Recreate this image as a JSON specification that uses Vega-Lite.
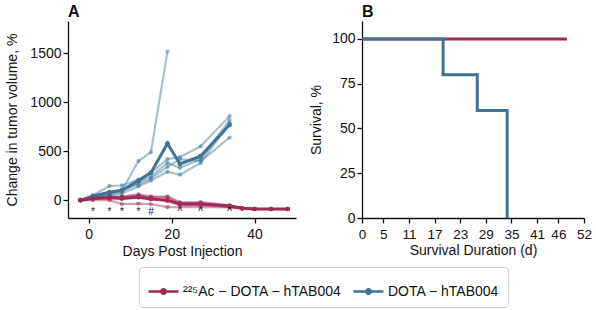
{
  "$schema": "https://vega.github.io/schema/vega-lite/v6.json",
  "padding": {"left": 5, "top": 4, "right": 5, "bottom": 5},
  "background": "white",
  "config": {
    "view": {"stroke": null},
    "font": "Liberation Sans",
    "axis": {
      "grid": false,
      "domainColor": "#111",
      "domainWidth": 1.3,
      "tickColor": "#111",
      "tickWidth": 1.3,
      "tickSize": 5,
      "labelFont": "Liberation Sans",
      "labelFontSize": 14,
      "labelColor": "#111",
      "labelOverlap": false,
      "labelFlush": false,
      "titleFont": "Liberation Sans",
      "titleFontSize": 14,
      "titleFontWeight": "normal",
      "titleColor": "#111"
    },
    "axisX": {"labelOverlap": false, "labelSeparation": 0},
    "axisQuantitative": {"labelOverlap": false},
    "title": {"font": "Liberation Sans", "fontSize": 16, "fontWeight": "bold", "anchor": "start", "frame": "group", "offset": 1, "color": "#111"},
    "legend": {
      "orient": "none",
      "legendX": 71,
      "legendY": 246,
      "direction": "horizontal",
      "title": null,
      "labelFont": "Liberation Sans",
      "labelFontSize": 14,
      "labelColor": "#111",
      "symbolType": "M-1,0L1,0M-0.15,0A0.15,0.15,0,1,1,0.15,0A0.15,0.15,0,1,1,-0.15,0Z",
      "symbolSize": 900,
      "symbolStrokeWidth": 2.6,
      "symbolOpacity": 1,
      "strokeColor": "#cccccc",
      "padding": 8,
      "cornerRadius": 3,
      "columnPadding": 6,
      "labelOffset": 3
    }
  },
  "datasets": {
    "growth": [
      {"g": "DOTA − hTAB004", "m": "B1", "d": -2, "v": 0},
      {"g": "DOTA − hTAB004", "m": "B1", "d": 1, "v": 40},
      {"g": "DOTA − hTAB004", "m": "B1", "d": 5, "v": 70},
      {"g": "DOTA − hTAB004", "m": "B1", "d": 8, "v": 100},
      {"g": "DOTA − hTAB004", "m": "B1", "d": 12, "v": 400},
      {"g": "DOTA − hTAB004", "m": "B1", "d": 15, "v": 490},
      {"g": "DOTA − hTAB004", "m": "B1", "d": 19, "v": 1520},
      {"g": "DOTA − hTAB004", "m": "B2", "d": -2, "v": 0},
      {"g": "DOTA − hTAB004", "m": "B2", "d": 1, "v": 50},
      {"g": "DOTA − hTAB004", "m": "B2", "d": 5, "v": 145},
      {"g": "DOTA − hTAB004", "m": "B2", "d": 8, "v": 150},
      {"g": "DOTA − hTAB004", "m": "B2", "d": 12, "v": 210},
      {"g": "DOTA − hTAB004", "m": "B2", "d": 15, "v": 280},
      {"g": "DOTA − hTAB004", "m": "B2", "d": 19, "v": 420},
      {"g": "DOTA − hTAB004", "m": "B2", "d": 22, "v": 440},
      {"g": "DOTA − hTAB004", "m": "B2", "d": 27, "v": 550},
      {"g": "DOTA − hTAB004", "m": "B2", "d": 34, "v": 860},
      {"g": "DOTA − hTAB004", "m": "B3", "d": -2, "v": 0},
      {"g": "DOTA − hTAB004", "m": "B3", "d": 1, "v": 35},
      {"g": "DOTA − hTAB004", "m": "B3", "d": 5, "v": 60},
      {"g": "DOTA − hTAB004", "m": "B3", "d": 8, "v": 90},
      {"g": "DOTA − hTAB004", "m": "B3", "d": 12, "v": 180},
      {"g": "DOTA − hTAB004", "m": "B3", "d": 15, "v": 240},
      {"g": "DOTA − hTAB004", "m": "B3", "d": 19, "v": 380},
      {"g": "DOTA − hTAB004", "m": "B3", "d": 22, "v": 330},
      {"g": "DOTA − hTAB004", "m": "B3", "d": 27, "v": 420},
      {"g": "DOTA − hTAB004", "m": "B3", "d": 34, "v": 820},
      {"g": "DOTA − hTAB004", "m": "B4", "d": -2, "v": 0},
      {"g": "DOTA − hTAB004", "m": "B4", "d": 1, "v": 30},
      {"g": "DOTA − hTAB004", "m": "B4", "d": 5, "v": 50},
      {"g": "DOTA − hTAB004", "m": "B4", "d": 8, "v": 70},
      {"g": "DOTA − hTAB004", "m": "B4", "d": 12, "v": 140},
      {"g": "DOTA − hTAB004", "m": "B4", "d": 15, "v": 200},
      {"g": "DOTA − hTAB004", "m": "B4", "d": 19, "v": 290},
      {"g": "DOTA − hTAB004", "m": "B4", "d": 22, "v": 260},
      {"g": "DOTA − hTAB004", "m": "B4", "d": 27, "v": 380},
      {"g": "DOTA − hTAB004", "m": "B4", "d": 34, "v": 790},
      {"g": "DOTA − hTAB004", "m": "B5", "d": -2, "v": 0},
      {"g": "DOTA − hTAB004", "m": "B5", "d": 1, "v": 40},
      {"g": "DOTA − hTAB004", "m": "B5", "d": 5, "v": 80},
      {"g": "DOTA − hTAB004", "m": "B5", "d": 8, "v": 110},
      {"g": "DOTA − hTAB004", "m": "B5", "d": 12, "v": 160},
      {"g": "DOTA − hTAB004", "m": "B5", "d": 15, "v": 220},
      {"g": "DOTA − hTAB004", "m": "B5", "d": 19, "v": 340},
      {"g": "DOTA − hTAB004", "m": "B5", "d": 22, "v": 420},
      {"g": "DOTA − hTAB004", "m": "B5", "d": 27, "v": 400},
      {"g": "DOTA − hTAB004", "m": "B5", "d": 34, "v": 640},
      {"g": "DOTA − hTAB004", "m": "mean", "d": -2, "v": 0},
      {"g": "DOTA − hTAB004", "m": "mean", "d": 1, "v": 40},
      {"g": "DOTA − hTAB004", "m": "mean", "d": 5, "v": 80},
      {"g": "DOTA − hTAB004", "m": "mean", "d": 8, "v": 100},
      {"g": "DOTA − hTAB004", "m": "mean", "d": 12, "v": 200},
      {"g": "DOTA − hTAB004", "m": "mean", "d": 15, "v": 280},
      {"g": "DOTA − hTAB004", "m": "mean", "d": 19, "v": 580},
      {"g": "DOTA − hTAB004", "m": "mean", "d": 22, "v": 370},
      {"g": "DOTA − hTAB004", "m": "mean", "d": 27, "v": 450},
      {"g": "DOTA − hTAB004", "m": "mean", "d": 34, "v": 770},
      {"g": "²²⁵Ac − DOTA − hTAB004", "m": "R1", "d": -2, "v": 0},
      {"g": "²²⁵Ac − DOTA − hTAB004", "m": "R1", "d": 1, "v": 20},
      {"g": "²²⁵Ac − DOTA − hTAB004", "m": "R1", "d": 5, "v": 40},
      {"g": "²²⁵Ac − DOTA − hTAB004", "m": "R1", "d": 8, "v": 40},
      {"g": "²²⁵Ac − DOTA − hTAB004", "m": "R1", "d": 12, "v": 60},
      {"g": "²²⁵Ac − DOTA − hTAB004", "m": "R1", "d": 15, "v": 40},
      {"g": "²²⁵Ac − DOTA − hTAB004", "m": "R1", "d": 19, "v": 30},
      {"g": "²²⁵Ac − DOTA − hTAB004", "m": "R1", "d": 22, "v": -30},
      {"g": "²²⁵Ac − DOTA − hTAB004", "m": "R1", "d": 27, "v": -20},
      {"g": "²²⁵Ac − DOTA − hTAB004", "m": "R1", "d": 34, "v": -50},
      {"g": "²²⁵Ac − DOTA − hTAB004", "m": "R1", "d": 37, "v": -80},
      {"g": "²²⁵Ac − DOTA − hTAB004", "m": "R1", "d": 40, "v": -90},
      {"g": "²²⁵Ac − DOTA − hTAB004", "m": "R1", "d": 44, "v": -90},
      {"g": "²²⁵Ac − DOTA − hTAB004", "m": "R1", "d": 48, "v": -90},
      {"g": "²²⁵Ac − DOTA − hTAB004", "m": "R2", "d": -2, "v": 0},
      {"g": "²²⁵Ac − DOTA − hTAB004", "m": "R2", "d": 1, "v": 20},
      {"g": "²²⁵Ac − DOTA − hTAB004", "m": "R2", "d": 5, "v": 30},
      {"g": "²²⁵Ac − DOTA − hTAB004", "m": "R2", "d": 8, "v": 30},
      {"g": "²²⁵Ac − DOTA − hTAB004", "m": "R2", "d": 12, "v": 50},
      {"g": "²²⁵Ac − DOTA − hTAB004", "m": "R2", "d": 15, "v": 30},
      {"g": "²²⁵Ac − DOTA − hTAB004", "m": "R2", "d": 19, "v": 40},
      {"g": "²²⁵Ac − DOTA − hTAB004", "m": "R2", "d": 22, "v": -20},
      {"g": "²²⁵Ac − DOTA − hTAB004", "m": "R2", "d": 27, "v": -30},
      {"g": "²²⁵Ac − DOTA − hTAB004", "m": "R2", "d": 34, "v": -60},
      {"g": "²²⁵Ac − DOTA − hTAB004", "m": "R2", "d": 37, "v": -85},
      {"g": "²²⁵Ac − DOTA − hTAB004", "m": "R2", "d": 40, "v": -90},
      {"g": "²²⁵Ac − DOTA − hTAB004", "m": "R2", "d": 44, "v": -92},
      {"g": "²²⁵Ac − DOTA − hTAB004", "m": "R2", "d": 48, "v": -92},
      {"g": "²²⁵Ac − DOTA − hTAB004", "m": "R3", "d": -2, "v": 0},
      {"g": "²²⁵Ac − DOTA − hTAB004", "m": "R3", "d": 1, "v": 0},
      {"g": "²²⁵Ac − DOTA − hTAB004", "m": "R3", "d": 5, "v": 0},
      {"g": "²²⁵Ac − DOTA − hTAB004", "m": "R3", "d": 8, "v": -40},
      {"g": "²²⁵Ac − DOTA − hTAB004", "m": "R3", "d": 12, "v": -35},
      {"g": "²²⁵Ac − DOTA − hTAB004", "m": "R3", "d": 15, "v": -40},
      {"g": "²²⁵Ac − DOTA − hTAB004", "m": "R3", "d": 19, "v": -70},
      {"g": "²²⁵Ac − DOTA − hTAB004", "m": "R3", "d": 22, "v": -70},
      {"g": "²²⁵Ac − DOTA − hTAB004", "m": "R3", "d": 27, "v": -70},
      {"g": "²²⁵Ac − DOTA − hTAB004", "m": "R3", "d": 34, "v": -75},
      {"g": "²²⁵Ac − DOTA − hTAB004", "m": "R3", "d": 37, "v": -85},
      {"g": "²²⁵Ac − DOTA − hTAB004", "m": "R3", "d": 40, "v": -90},
      {"g": "²²⁵Ac − DOTA − hTAB004", "m": "R3", "d": 44, "v": -90},
      {"g": "²²⁵Ac − DOTA − hTAB004", "m": "R3", "d": 48, "v": -90},
      {"g": "²²⁵Ac − DOTA − hTAB004", "m": "R4", "d": -2, "v": 0},
      {"g": "²²⁵Ac − DOTA − hTAB004", "m": "R4", "d": 1, "v": 25},
      {"g": "²²⁵Ac − DOTA − hTAB004", "m": "R4", "d": 5, "v": 35},
      {"g": "²²⁵Ac − DOTA − hTAB004", "m": "R4", "d": 8, "v": 30},
      {"g": "²²⁵Ac − DOTA − hTAB004", "m": "R4", "d": 12, "v": 45},
      {"g": "²²⁵Ac − DOTA − hTAB004", "m": "R4", "d": 15, "v": 20},
      {"g": "²²⁵Ac − DOTA − hTAB004", "m": "R4", "d": 19, "v": 0},
      {"g": "²²⁵Ac − DOTA − hTAB004", "m": "R4", "d": 22, "v": -40},
      {"g": "²²⁵Ac − DOTA − hTAB004", "m": "R4", "d": 27, "v": -40},
      {"g": "²²⁵Ac − DOTA − hTAB004", "m": "R4", "d": 34, "v": -60},
      {"g": "²²⁵Ac − DOTA − hTAB004", "m": "R4", "d": 37, "v": -80},
      {"g": "²²⁵Ac − DOTA − hTAB004", "m": "R4", "d": 40, "v": -88},
      {"g": "²²⁵Ac − DOTA − hTAB004", "m": "R4", "d": 44, "v": -90},
      {"g": "²²⁵Ac − DOTA − hTAB004", "m": "R4", "d": 48, "v": -88},
      {"g": "²²⁵Ac − DOTA − hTAB004", "m": "R5", "d": -2, "v": 0},
      {"g": "²²⁵Ac − DOTA − hTAB004", "m": "R5", "d": 1, "v": 15},
      {"g": "²²⁵Ac − DOTA − hTAB004", "m": "R5", "d": 5, "v": 25},
      {"g": "²²⁵Ac − DOTA − hTAB004", "m": "R5", "d": 8, "v": 20},
      {"g": "²²⁵Ac − DOTA − hTAB004", "m": "R5", "d": 12, "v": 30},
      {"g": "²²⁵Ac − DOTA − hTAB004", "m": "R5", "d": 15, "v": 15},
      {"g": "²²⁵Ac − DOTA − hTAB004", "m": "R5", "d": 19, "v": -10},
      {"g": "²²⁵Ac − DOTA − hTAB004", "m": "R5", "d": 22, "v": -50},
      {"g": "²²⁵Ac − DOTA − hTAB004", "m": "R5", "d": 27, "v": -50},
      {"g": "²²⁵Ac − DOTA − hTAB004", "m": "R5", "d": 34, "v": -70},
      {"g": "²²⁵Ac − DOTA − hTAB004", "m": "R5", "d": 37, "v": -85},
      {"g": "²²⁵Ac − DOTA − hTAB004", "m": "R5", "d": 40, "v": -90},
      {"g": "²²⁵Ac − DOTA − hTAB004", "m": "R5", "d": 44, "v": -90},
      {"g": "²²⁵Ac − DOTA − hTAB004", "m": "R5", "d": 48, "v": -90},
      {"g": "²²⁵Ac − DOTA − hTAB004", "m": "mean", "d": -2, "v": 0},
      {"g": "²²⁵Ac − DOTA − hTAB004", "m": "mean", "d": 1, "v": 16},
      {"g": "²²⁵Ac − DOTA − hTAB004", "m": "mean", "d": 5, "v": 26},
      {"g": "²²⁵Ac − DOTA − hTAB004", "m": "mean", "d": 8, "v": 16},
      {"g": "²²⁵Ac − DOTA − hTAB004", "m": "mean", "d": 12, "v": 30},
      {"g": "²²⁵Ac − DOTA − hTAB004", "m": "mean", "d": 15, "v": 13},
      {"g": "²²⁵Ac − DOTA − hTAB004", "m": "mean", "d": 19, "v": 0},
      {"g": "²²⁵Ac − DOTA − hTAB004", "m": "mean", "d": 22, "v": -40},
      {"g": "²²⁵Ac − DOTA − hTAB004", "m": "mean", "d": 27, "v": -40},
      {"g": "²²⁵Ac − DOTA − hTAB004", "m": "mean", "d": 34, "v": -60},
      {"g": "²²⁵Ac − DOTA − hTAB004", "m": "mean", "d": 37, "v": -83},
      {"g": "²²⁵Ac − DOTA − hTAB004", "m": "mean", "d": 40, "v": -90},
      {"g": "²²⁵Ac − DOTA − hTAB004", "m": "mean", "d": 44, "v": -90},
      {"g": "²²⁵Ac − DOTA − hTAB004", "m": "mean", "d": 48, "v": -90}
    ],
    "sig": [
      {"d": 1, "t": "*"},
      {"d": 5, "t": "*"},
      {"d": 8, "t": "*"},
      {"d": 12, "t": "*"},
      {"d": 15, "t": "#"},
      {"d": 22, "t": "^"},
      {"d": 27, "t": "^"},
      {"d": 34, "t": "^"}
    ],
    "surv": [
      {"g": "²²⁵Ac − DOTA − hTAB004", "d": 0, "s": 100},
      {"g": "²²⁵Ac − DOTA − hTAB004", "d": 48, "s": 100},
      {"g": "DOTA − hTAB004", "d": 0, "s": 100},
      {"g": "DOTA − hTAB004", "d": 19, "s": 80},
      {"g": "DOTA − hTAB004", "d": 27, "s": 60},
      {"g": "DOTA − hTAB004", "d": 34, "s": 0}
    ]
  },
  "resolve": {"scale": {"color": "shared"}},
  "spacing": 13,
  "hconcat": [
    {
      "title": {"text": "A"},
      "width": 228,
      "height": 197,
      "layer": [
        {
          "data": {"name": "growth"},
          "transform": [{"filter": "datum.m !== 'mean'"}],
          "mark": {"type": "line", "strokeWidth": 2.2, "opacity": 0.45},
          "encoding": {
            "x": {"field": "d", "type": "quantitative", "scale": {"domain": [-5, 50], "nice": false, "zero": false},
              "axis": {"values": [0, 20, 40], "title": "Days Post Injection", "labelPadding": 4, "titlePadding": 3}},
            "y": {"field": "v", "type": "quantitative", "scale": {"domain": [-182, 1830], "nice": false, "zero": false},
              "axis": {"values": [0, 500, 1000, 1500], "format": "d", "title": "Change in tumor volume, %", "titlePadding": 10, "labelPadding": 2}},
            "detail": {"field": "m"},
            "color": {"field": "g", "type": "nominal",
              "scale": {"domain": ["²²⁵Ac − DOTA − hTAB004", "DOTA − hTAB004"], "range": ["#9E2A56", "#3C7396"]}}
          }
        },
        {
          "data": {"name": "growth"},
          "transform": [{"filter": "datum.m !== 'mean'"}],
          "mark": {"type": "circle", "size": 18, "opacity": 0.5},
          "encoding": {
            "x": {"field": "d", "type": "quantitative"},
            "y": {"field": "v", "type": "quantitative"},
            "color": {"field": "g", "type": "nominal"}
          }
        },
        {
          "data": {"name": "growth"},
          "transform": [{"filter": "datum.m === 'mean'"}],
          "mark": {"type": "line", "strokeWidth": 3},
          "encoding": {
            "x": {"field": "d", "type": "quantitative"},
            "y": {"field": "v", "type": "quantitative"},
            "color": {"field": "g", "type": "nominal"}
          }
        },
        {
          "data": {"name": "growth"},
          "transform": [{"filter": "datum.m === 'mean'"}],
          "mark": {"type": "circle", "size": 22, "opacity": 1},
          "encoding": {
            "x": {"field": "d", "type": "quantitative"},
            "y": {"field": "v", "type": "quantitative"},
            "color": {"field": "g", "type": "nominal"}
          }
        },
        {
          "data": {"name": "sig"},
          "mark": {"type": "text", "fontSize": 10, "baseline": "middle", "color": "#111", "font": "Liberation Sans"},
          "encoding": {
            "x": {"field": "d", "type": "quantitative"},
            "y": {"datum": -125},
            "text": {"field": "t"}
          }
        }
      ]
    },
    {
      "title": {"text": "B"},
      "width": 222,
      "height": 197,
      "layer": [
        {
          "data": {"name": "surv"},
          "transform": [{"filter": "datum.g !== 'DOTA − hTAB004'"}],
          "mark": {"type": "line", "strokeWidth": 3, "interpolate": "step-after"},
          "encoding": {
            "x": {"field": "d", "type": "quantitative", "scale": {"domain": [0, 52], "nice": false},
              "axis": {"values": [0, 5, 11, 17, 23, 29, 35, 41, 46, 52], "labelOverlap": false, "labelSeparation": 0, "labelFontSize": 13.5, "title": "Survival Duration (d)", "labelPadding": 4, "titlePadding": 3}},
            "y": {"field": "s", "type": "quantitative", "scale": {"domain": [0, 110], "nice": false},
              "axis": {"values": [0, 25, 50, 75, 100], "title": "Survival, %", "titlePadding": 8, "labelPadding": 2}},
            "color": {"field": "g", "type": "nominal"}
          }
        },
        {
          "data": {"name": "surv"},
          "transform": [{"filter": "datum.g === 'DOTA − hTAB004'"}],
          "mark": {"type": "line", "strokeWidth": 3, "interpolate": "step-after"},
          "encoding": {
            "x": {"field": "d", "type": "quantitative", "axis": {"values": [0, 5, 11, 17, 23, 29, 35, 41, 46, 52], "labelOverlap": false, "labelSeparation": 0, "labelFontSize": 13.5, "title": "Survival Duration (d)", "labelPadding": 4, "titlePadding": 3}},
            "y": {"field": "s", "type": "quantitative"},
            "color": {"field": "g", "type": "nominal"}
          }
        }
      ]
    }
  ]
}
